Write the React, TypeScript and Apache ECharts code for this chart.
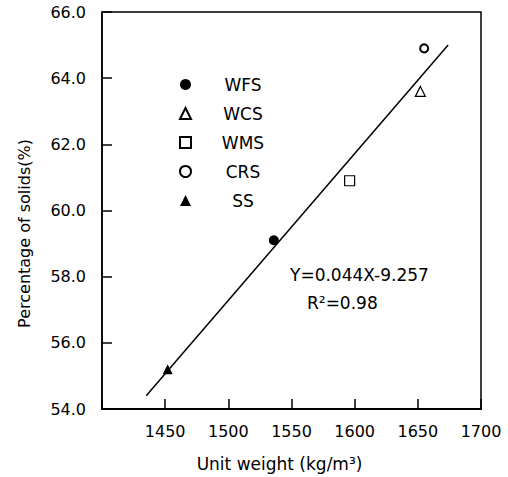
import React, { useEffect, useRef } from "react";
import * as echarts from "echarts";

const seriesNames = ["WFS", "WCS", "WMS", "CRS", "SS"];
const unitWeight = [1536, 1652, 1596, 1655, 1452];
const solidsPct = [59.1, 63.6, 60.9, 64.9, 55.2];
const fitX = [1435, 1674];
const fitY = [54.4, 65.0];
const xTicks = [1450, 1500, 1550, 1600, 1650, 1700];
const yTicks = [54, 56, 58, 60, 62, 64, 66];

const FONT = "DejaVu Sans";

const symbols = ["circle", "triangle", "rect", "circle", "triangle"];
const filled = [true, false, false, false, true];
const sizes = [10, 10, 10, 8, 10];
const borders = [0, 1.2, 1.2, 2, 0];

export default function App() {
  const ref = useRef<HTMLDivElement>(null);
  useEffect(() => {
    if (!ref.current) return;
    const chart = echarts.init(ref.current, undefined, { renderer: "svg" });
    const scatter = seriesNames.map((name, i) => ({
      name,
      type: "scatter",
      symbol: symbols[i],
      symbolSize: sizes[i],
      itemStyle: {
        color: filled[i] ? "#000" : "#fff",
        borderColor: "#000",
        borderWidth: borders[i],
        opacity: 1,
      },
      z: 5,
      data: [[unitWeight[i], solidsPct[i]]],
    }));
    chart.setOption({
      animation: false,
      backgroundColor: "#fff",
      grid: {
        left: 102,
        right: 27,
        top: 12,
        bottom: 68,
        show: true,
        borderColor: "#000",
        borderWidth: 1.5,
        backgroundColor: "transparent",
      },
      legend: {
        orient: "vertical",
        left: 174,
        top: 71,
        itemWidth: 11,
        itemHeight: 11,
        itemGap: 12,
        data: seriesNames,
        formatter: (n: string) => `{a|${n}}`,
        textStyle: {
          fontFamily: FONT,
          fontSize: 17,
          color: "#000",
          rich: { a: { width: 94, align: "center", fontFamily: FONT, fontSize: 17, color: "#000" } },
        },
      },
      xAxis: {
        type: "value",
        min: 1400,
        max: 1700,
        interval: 50,
        name: "Unit weight (kg/m³)",
        nameLocation: "middle",
        nameGap: 46,
        nameTextStyle: { fontFamily: FONT, fontSize: 17, color: "#000", padding: [0, 24, 0, 0] },
        axisLine: { show: true, onZero: false, lineStyle: { color: "#000", width: 2 } },
        axisTick: { show: true, inside: true, length: 10, lineStyle: { color: "#000", width: 1.5 } },
        splitLine: { show: false },
        axisLabel: {
          margin: 14,
          fontFamily: FONT,
          fontSize: 16,
          color: "#000",
          formatter: (v: number) => (xTicks.includes(v) ? String(v) : ""),
        },
      },
      yAxis: {
        type: "value",
        min: 54,
        max: 66,
        interval: 2,
        name: "Percentage of solids(%)",
        nameLocation: "middle",
        nameGap: 70,
        nameTextStyle: { fontFamily: FONT, fontSize: 16, color: "#000", padding: [0, 46, 0, 0] },
        axisLine: { show: true, onZero: false, lineStyle: { color: "#000", width: 1.5 } },
        axisTick: { show: true, inside: true, length: 10, lineStyle: { color: "#000", width: 1.5 } },
        splitLine: { show: false },
        axisLabel: {
          margin: 16,
          fontFamily: FONT,
          fontSize: 16,
          color: "#000",
          formatter: (v: number) => (yTicks.includes(v) ? v.toFixed(1) : ""),
        },
      },
      series: [
        {
          name: "fit",
          type: "line",
          data: fitX.map((x, i) => [x, fitY[i]]),
          symbol: "none",
          lineStyle: { color: "#000", width: 1.5 },
          z: 3,
        },
        ...scatter,
      ],
      graphic: [
        {
          type: "text",
          left: 290,
          top: 266,
          style: { text: "Y=0.044X-9.257", fontFamily: FONT, fontSize: 17, fill: "#000" },
        },
        {
          type: "text",
          left: 307,
          top: 294,
          style: { text: "R²=0.98", fontFamily: FONT, fontSize: 17, fill: "#000" },
        },
      ],
    });
    return () => chart.dispose();
  }, []);
  return (
    <div
      ref={ref}
      style={{ position: "fixed", left: 0, top: 0, width: 508, height: 477 }}
    />
  );
}
